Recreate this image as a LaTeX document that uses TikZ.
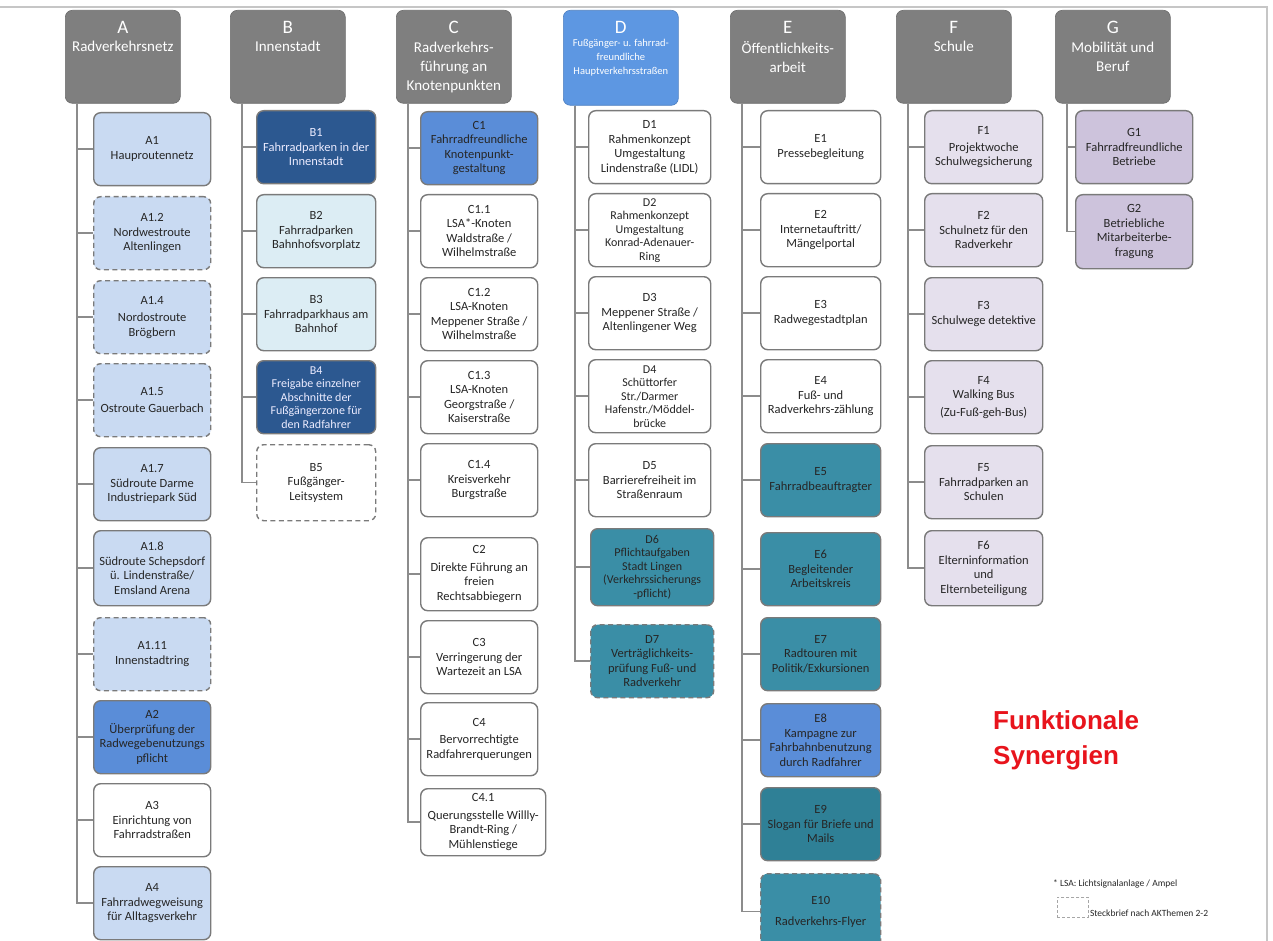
\documentclass[tikz,border=0pt]{standalone}
\usepackage{fontspec}
\setmainfont{Carlito}
\newfontfamily\arialfont{Liberation Sans}
\usepackage{tikz}
\usetikzlibrary{positioning}

\definecolor{kopfgrau}{HTML}{7F7F7F}
\definecolor{randgrau}{HTML}{7A7A7A}
\definecolor{astgrau}{HTML}{8C8C8C}
\definecolor{schrift}{HTML}{262626}
\definecolor{cHell}{HTML}{C9DAF2}
\definecolor{cMittel}{HTML}{5A8DD8}
\definecolor{cKopfD}{HTML}{5D97E2}
\definecolor{cDunkel}{HTML}{2C5890}
\definecolor{cTuerkis}{HTML}{DCEDF4}
\definecolor{cPetrol}{HTML}{3A8EA6}
\definecolor{cPetrolD}{HTML}{2F8096}
\definecolor{cLavendel}{HTML}{E5E0ED}
\definecolor{cLila}{HTML}{CDC3DC}
\definecolor{cRot}{HTML}{E8141C}

\tikzset{
  kopf/.style={fill=kopfgrau, draw=kopfgrau!85!black, line width=0.6pt, rounded corners=7pt,
    minimum width=115pt, minimum height=93pt, anchor=north west},
  buchst/.style={text=white, inner sep=0pt, font=\fontsize{19}{20}\selectfont},
  ktext/.style={text=white, inner sep=0pt, align=center, font=\fontsize{15}{19}\selectfont},
  kasten/.style={draw=randgrau, line width=1.4pt, rounded corners=7pt, minimum width=117pt,
    minimum height=73pt, anchor=north west, align=center, inner sep=2pt, text=schrift,
    font=\fontsize{12.5}{14.5}\selectfont},
  eng/.style={font=\fontsize{12}{13.5}\selectfont},
  sb/.style={dash pattern=on 5pt off 3.5pt},
  hell/.style={fill=cHell},
  mittel/.style={fill=cMittel, text=black!85},
  dunkel/.style={fill=cDunkel, text=white!92!blue},
  tuerkis/.style={fill=cTuerkis},
  weiss/.style={fill=white},
  petrol/.style={fill=cPetrol, text=black!85},
  lavendel/.style={fill=cLavendel},
  lila/.style={fill=cLila},
  ast/.style={draw=astgrau, line width=1.5pt},
  legtext/.style={text=schrift, inner sep=1pt, font=\fontsize{9.5}{11}\selectfont}
}

\begin{document}
\begin{tikzpicture}[x=1pt, y=-1pt]
  \useasboundingbox (0,0) rectangle (1273,941);
  \fill[white] (0,0) rectangle (1273,941);
  \draw[gray!45, line width=1.2pt] (0,7) -- (1267,7) -- (1267,941);

  % Kopfzeile
  \node[kopf] (kA) at (65,10) {};
  \node[kopf] (kB) at (230,10) {};
  \node[kopf] (kC) at (396,10) {};
  \node[kopf, fill=cKopfD, draw=cKopfD!85!black, minimum height=95pt] (kD) at (563,10) {};
  \node[kopf] (kE) at (730,10) {};
  \node[kopf] (kF) at (896,10) {};
  \node[kopf] (kG) at (1055,10) {};

  \node[buchst] (bA) at ([yshift=-17pt]kA.north) {A};
  \node[ktext, below=8pt of bA] (tA) {Radverkehrsnetz};
  \node[buchst] (bB) at ([yshift=-17pt]kB.north) {B};
  \node[ktext, below=8pt of bB] (tB) {Innenstadt};
  \node[buchst] (bC) at ([yshift=-17pt]kC.north) {C};
  \node[ktext, below=8pt of bC] (tC) {Radverkehrs-\\führung an\\Knotenpunkten};
  \node[buchst] (bD) at ([yshift=-17pt]kD.north) {D};
  \node[ktext, below=6pt of bD, font=\fontsize{10.5}{14}\selectfont] (tD) {Fußgänger- u. fahrrad-\\freundliche\\Hauptverkehrsstraßen};
  \node[buchst] (bE) at ([yshift=-17pt]kE.north) {E};
  \node[ktext, below=8pt of bE] (tE) {Öffentlichkeits-\\arbeit};
  \node[buchst] (bF) at ([yshift=-17pt]kF.north) {F};
  \node[ktext, below=8pt of bF] (tF) {Schule};
  \node[buchst] (bG) at ([yshift=-17pt]kG.north) {G};
  \node[ktext, below=8pt of bG] (tG) {Mobilität und\\Beruf};

  % A
  \node[kasten, hell] (A1) at (93,112) {A1\\Hauproutennetz};
  \node[kasten, hell, sb] (A12) at (93,196) {A1.2\\Nordwestroute\\Altenlingen};
  \node[kasten, hell, sb] (A14) at (93,280) {A1.4\\[3pt]Nordostroute\\Brögbern};
  \node[kasten, hell, sb] (A15) at (93,363) {A1.5\\[3pt]Ostroute Gauerbach};
  \node[kasten, hell] (A17) at (93,447) {A1.7\\Südroute Darme\\Industriepark Süd};
  \node[kasten, hell, minimum height=75pt] (A18) at (93,530) {A1.8\\Südroute Schepsdorf\\ü. Lindenstraße/\\Emsland Arena};
  \node[kasten, hell, sb] (A111) at (93,617) {A1.11\\Innenstadtring};
  \node[kasten, mittel] (A2) at (93,700) {A2\\Überprüfung der\\Radwegebenutzungs\\pflicht};
  \node[kasten, weiss] (A3) at (93,783) {A3\\Einrichtung von\\Fahrradstraßen};
  \node[kasten, hell] (A4) at (93,866) {A4\\Fahrradwegweisung\\für Alltagsverkehr};

  % B
  \node[kasten, dunkel, minimum width=119pt] (B1) at (256,110) {B1\\Fahrradparken in der\\Innenstadt};
  \node[kasten, tuerkis, minimum width=119pt] (B2) at (256,194) {B2\\Fahrradparken\\Bahnhofsvorplatz};
  \node[kasten, tuerkis, minimum width=119pt] (B3) at (256,277) {B3\\Fahrradparkhaus am\\Bahnhof};
  \node[kasten, dunkel, eng, minimum width=119pt] (B4) at (256,360) {B4\\Freigabe einzelner\\Abschnitte der\\Fußgängerzone für\\den Radfahrer};
  \node[kasten, weiss, sb, minimum width=119pt, minimum height=76pt] (B5) at (256,444) {B5\\Fußgänger-\\Leitsystem};

  % C
  \node[kasten, mittel] (C1) at (420,111) {C1\\Fahrradfreundliche\\Knotenpunkt-\\gestaltung};
  \node[kasten, weiss] (C11) at (420,194) {C1.1\\LSA*-Knoten\\Waldstraße /\\Wilhelmstraße};
  \node[kasten, weiss] (C12) at (420,277) {C1.2\\LSA-Knoten\\Meppener Straße /\\Wilhelmstraße};
  \node[kasten, weiss] (C13) at (420,360) {C1.3\\LSA-Knoten\\Georgstraße /\\Kaiserstraße};
  \node[kasten, weiss] (C14) at (420,443) {C1.4\\Kreisverkehr\\Burgstraße};
  \node[kasten, weiss] (C2) at (420,537) {C2\\[3pt]Direkte Führung an\\freien\\Rechtsabbiegern};
  \node[kasten, weiss] (C3) at (420,620) {C3\\Verringerung der\\Wartezeit an LSA};
  \node[kasten, weiss] (C4) at (420,702) {C4\\[3pt]Bervorrechtigte\\Radfahrerquerungen};
  \node[kasten, weiss, minimum width=125pt, minimum height=67pt] (C41) at (420,788) {C4.1\\[3pt]Querungsstelle Willly-\\Brandt-Ring /\\Mühlenstiege};

  % D
  \node[kasten, weiss, minimum width=122pt] (D1) at (588,110) {D1\\Rahmenkonzept\\Umgestaltung\\Lindenstraße (LIDL)};
  \node[kasten, weiss, eng, minimum width=122pt] (D2) at (588,193) {D2\\Rahmenkonzept\\Umgestaltung\\Konrad-Adenauer-\\Ring};
  \node[kasten, weiss, minimum width=122pt] (D3) at (588,276) {D3\\Meppener Straße /\\Altenlingener Weg};
  \node[kasten, weiss, eng, minimum width=122pt] (D4) at (588,359) {D4\\Schüttorfer\\Str./Darmer\\Hafenstr./Möddel-\\brücke};
  \node[kasten, weiss, minimum width=122pt] (D5) at (588,443) {D5\\Barrierefreiheit im\\Straßenraum};
  \node[kasten, petrol, eng, minimum width=123pt, minimum height=77pt] (D6) at (590,528) {D6\\Pflichtaufgaben\\Stadt Lingen\\(Verkehrssicherungs\\-pflicht)};
  \node[kasten, petrol, sb, minimum width=123pt] (D7) at (590,624) {D7\\Verträglichkeits-\\prüfung Fuß- und\\Radverkehr};

  % E
  \node[kasten, weiss, minimum width=120pt] (E1) at (760,110) {E1\\Pressebegleitung};
  \node[kasten, weiss, minimum width=120pt] (E2) at (760,193) {E2\\Internetauftritt/\\Mängelportal};
  \node[kasten, weiss, minimum width=120pt] (E3) at (760,276) {E3\\Radwegestadtplan};
  \node[kasten, weiss, minimum width=120pt] (E4) at (760,359) {E4\\Fuß- und\\Radverkehrs-zählung};
  \node[kasten, petrol, minimum width=120pt] (E5) at (760,443) {E5\\Fahrradbeauftragter};
  \node[kasten, petrol, minimum width=120pt] (E6) at (760,532) {E6\\Begleitender\\Arbeitskreis};
  \node[kasten, petrol, minimum width=120pt] (E7) at (760,617) {E7\\Radtouren mit\\Politik/Exkursionen};
  \node[kasten, mittel, minimum width=120pt] (E8) at (760,703) {E8\\Kampagne zur\\Fahrbahnbenutzung\\durch Radfahrer};
  \node[kasten, petrol, fill=cPetrolD, minimum width=120pt] (E9) at (760,787) {E9\\Slogan für Briefe und\\Mails};
  \node[kasten, petrol, sb, minimum width=120pt, minimum height=76pt] (E10) at (760,873) {E10\\[6pt]Radverkehrs-Flyer};

  % F
  \node[kasten, lavendel, minimum width=118pt] (F1) at (924,110) {F1\\[2pt]Projektwoche\\Schulwegsicherung};
  \node[kasten, lavendel, minimum width=118pt] (F2) at (924,193) {F2\\Schulnetz für den\\Radverkehr};
  \node[kasten, lavendel, minimum width=118pt] (F3) at (924,277) {F3\\Schulwege detektive};
  \node[kasten, lavendel, minimum width=118pt] (F4) at (924,360) {F4\\Walking Bus\\[3pt](Zu-Fuß-geh-Bus)};
  \node[kasten, lavendel, minimum width=118pt] (F5) at (924,445) {F5\\Fahrradparken an\\Schulen};
  \node[kasten, lavendel, minimum width=118pt, minimum height=75pt] (F6) at (924,530) {F6\\Elterninformation\\und\\Elternbeteiligung};

  % G
  \node[kasten, lila] (G1) at (1075,110) {G1\\Fahrradfreundliche\\Betriebe};
  \node[kasten, lila, minimum height=74pt] (G2) at (1075,194) {G2\\Betriebliche\\Mitarbeiterbe-\\fragung};

  % Verbindungen
  \foreach \k in {A1,A12,A14,A15,A17,A18,A111,A2,A3,A4}
    \draw[ast] ([xshift=12pt]kA.south west) |- (\k.west);
  \foreach \k in {B1,B2,B3,B4,B5}
    \draw[ast] ([xshift=12pt]kB.south west) |- (\k.west);
  \foreach \k in {C1,C11,C12,C13,C14,C2,C3,C4,C41}
    \draw[ast] ([xshift=12pt]kC.south west) |- (\k.west);
  \foreach \k in {D1,D2,D3,D4,D5,D6,D7}
    \draw[ast] ([xshift=12pt]kD.south west) |- (\k.west);
  \foreach \k in {E1,E2,E3,E4,E5,E6,E7,E8,E9,E10}
    \draw[ast] ([xshift=12pt]kE.south west) |- (\k.west);
  \foreach \k in {F1,F2,F3,F4,F5,F6}
    \draw[ast] ([xshift=12pt]kF.south west) |- (\k.west);
  \foreach \k in {G1,G2}
    \draw[ast] ([xshift=12pt]kG.south west) |- (\k.west);

  % Titel und Legende
  \node[anchor=north west, align=left, text=cRot, inner sep=0pt,
    font=\arialfont\bfseries\fontsize{26}{35}\selectfont] (titel) at (993,710) {Funktionale\\Synergien};
  \node[legtext, anchor=west] (lsa) at (1052,884) {* LSA: Lichtsignalanlage / Ampel};
  \node[draw=gray!70, line width=0.8pt, dash pattern=on 3pt off 2pt, anchor=north west,
    minimum width=31pt, minimum height=20pt, inner sep=0pt] (lbox) at (1057,897) {};
  \node[legtext, anchor=south west] (steck) at (lbox.south east) {Steckbrief nach AKThemen 2-2};
\end{tikzpicture}
\end{document}
